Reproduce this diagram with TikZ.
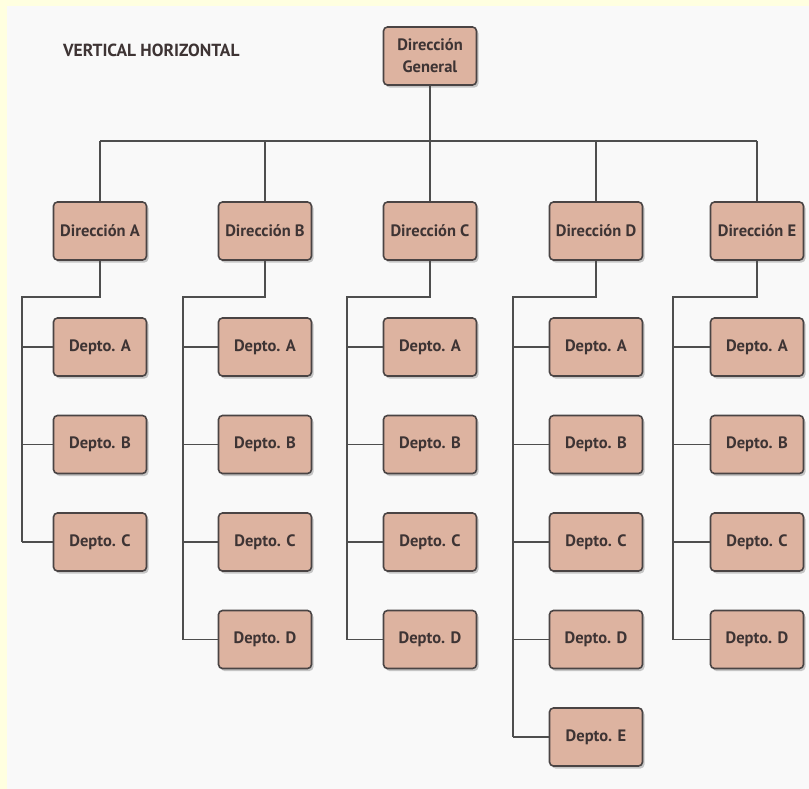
\documentclass[tikz,border=0pt]{standalone}
\usepackage{fontspec}
\setmainfont{PT Sans}
\usetikzlibrary{shadows}
\definecolor{frame}{HTML}{FFFFE0}
\definecolor{paper}{HTML}{F9F9F9}
\definecolor{boxfill}{HTML}{DDB3A0}
\definecolor{boxline}{HTML}{4A4444}
\definecolor{wire}{HTML}{4E4E4E}
\definecolor{ink}{HTML}{3E3434}
\tikzset{
  unit/.style={draw=boxline, line width=1.6bp, fill=boxfill, rounded corners=4bp,
    minimum width=93bp, minimum height=58bp, inner sep=0pt, text=ink,
    font=\fontsize{16.5bp}{22bp}\selectfont\bfseries, align=center,
    drop shadow={shadow xshift=2bp, shadow yshift=-2.5bp, opacity=0.35, fill=black!60}},
  link/.style={draw=wire, line width=1.6bp},
  heading/.style={text=ink, font=\fontsize{17.5bp}{20bp}\selectfont\bfseries, anchor=west, inner sep=0pt}
}
\begin{document}
\begin{tikzpicture}[x=1bp, y=-1bp]
  % page: yellow margin at top and left, paper inside
  \fill[frame] (0,0) rectangle (809,789);
  \fill[paper] (7,6) rectangle (809,789);
  \useasboundingbox (0,0) rectangle (809,789);

  \node[heading] (title) at (63,50) {VERTICAL HORIZONTAL};

  % top of the hierarchy
  \node[unit] (gen) at (430,56) {Dirección\\General};
  \coordinate (bus) at (430,141);
  \draw[link] (gen.south) -- (bus);

  % directorates: name / centre x / rail x / number of departments
  \foreach \k/\cx/\rx/\n in {A/100/22/3, B/265/183/4, C/430/347/4, D/596/513/5, E/757/673/4} {
    \node[unit] (dir\k) at (\cx,231) {Dirección \k};
    \draw[link] (dir\k.north) -- (dir\k.north |- bus);
    \coordinate (rail\k) at (\rx,297);
    \foreach \j/\dl in {1/A, 2/B, 3/C, 4/D, 5/E} {
      \ifnum\j>\n\relax\else
        \node[unit] (dep\k\j) at (\cx,{347+97.5*(\j-1)}) {Depto. \dl};
        \draw[link] (rail\k |- dep\k\j.west) -- (dep\k\j.west);
      \fi
    }
    \draw[link] (dir\k.south) |- (rail\k) -- (rail\k |- dep\k\n.west);
  }
  \draw[link] (dirA.north |- bus) -- (dirE.north |- bus);
\end{tikzpicture}
\end{document}
